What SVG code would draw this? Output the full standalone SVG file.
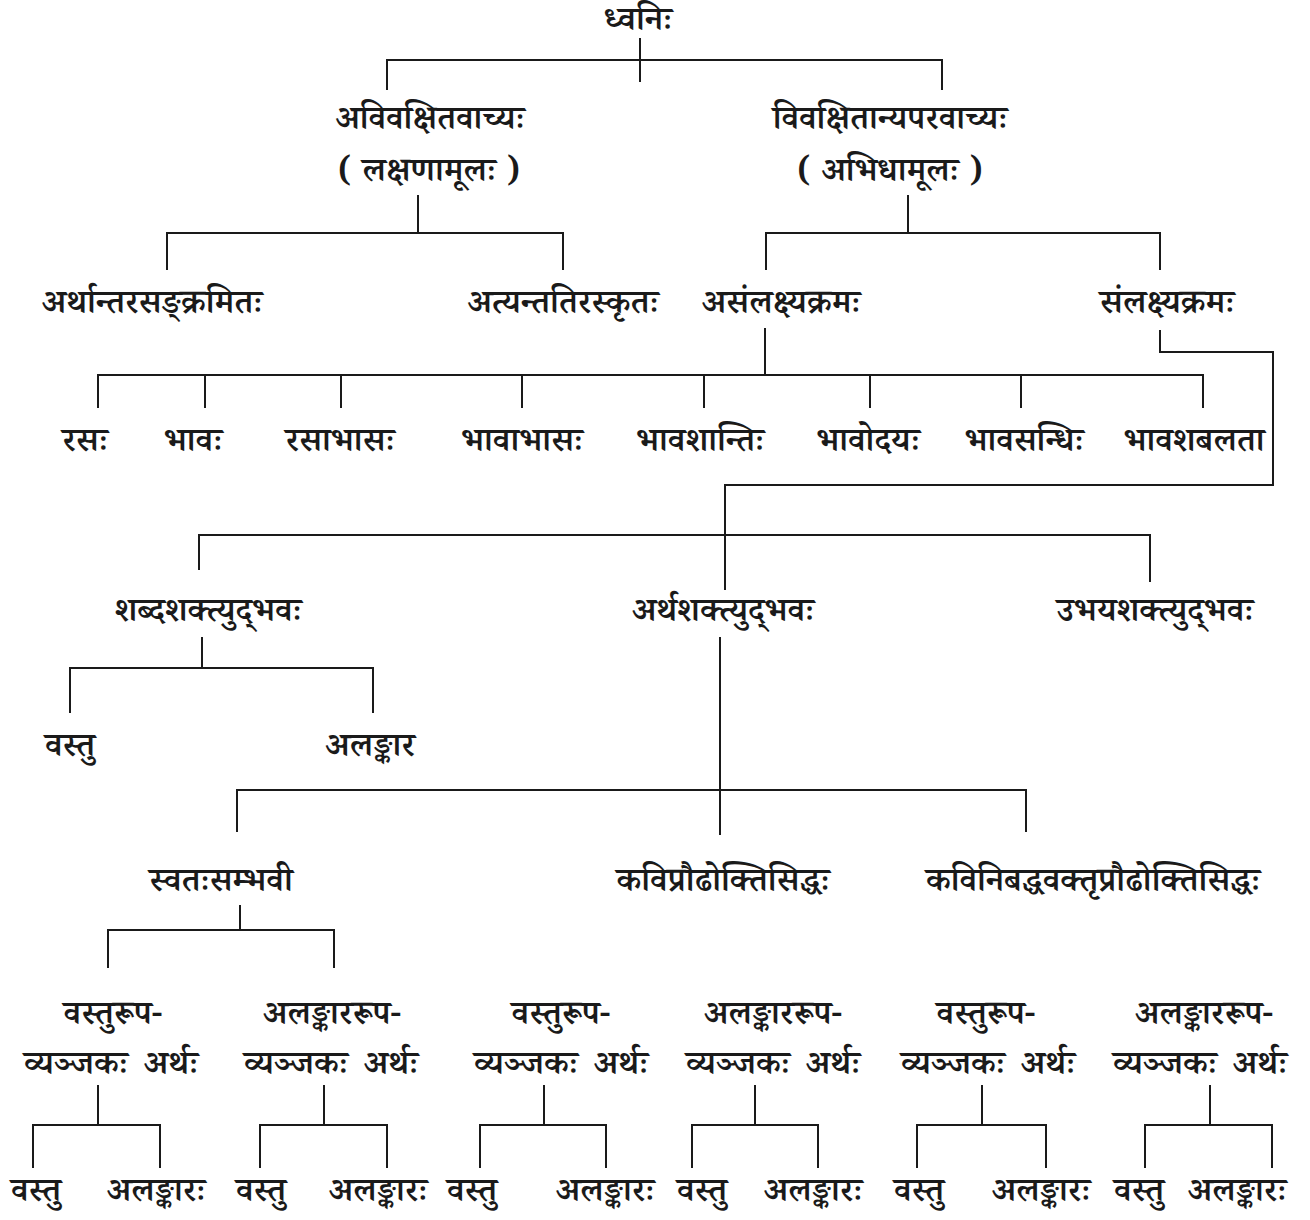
<svg xmlns="http://www.w3.org/2000/svg" width="1310" height="1220" viewBox="0 0 1310 1220">
<style>
text{font-family:"Noto Serif Devanagari","Noto Sans Devanagari","Lohit Devanagari","Noto Sans",sans-serif;font-size:34px;font-weight:600;fill:#1a1a1a;text-anchor:middle}
.c{stroke:#1a1a1a;stroke-width:2;fill:none}
</style>
<rect width="1310" height="1220" fill="#fff"/>
<g id="connectors" class="c">
<path d="M640 38V82M387 90V60H942V90"/>
<path d="M418 195V233M167 270V233H563V270"/>
<path d="M908 195V233M766 270V233H1160V270"/>
<path d="M765 328V375M98 408V375H1203V408M205 375V408M341 375V408M522 375V408M704 375V408M870 375V408M1021 375V408"/>
<path d="M1160 330V352H1273V485H725V590M199 570V535H1150V582"/>
<path d="M202 637V668M70 713V668H373V713"/>
<path d="M720 637V835M237 832V790H1026V832"/>
<path d="M240 905V930M108 968V930H334V968"/>
<path d="M98 1085V1125M33 1168V1125H160V1168"/>
<path d="M324 1085V1125M260 1168V1125H387V1168"/>
<path d="M544 1085V1125M480 1168V1125H606V1168"/>
<path d="M755 1085V1125M692 1168V1125H818V1168"/>
<path d="M982 1085V1125M917 1168V1125H1046V1168"/>
<path d="M1210 1085V1125M1145 1168V1125H1272V1168"/>
</g>
<g id="n-dhvani"><text x="638" y="30">ध्वनिः</text></g>
<g id="n-avivakshita"><text x="430" y="129">अविवक्षितवाच्यः</text><text x="429" y="181">( लक्षणामूलः )</text></g>
<g id="n-vivakshita"><text x="890" y="129">विवक्षितान्यपरवाच्यः</text><text x="890" y="181">( अभिधामूलः )</text></g>
<g id="n-arthantara"><text x="152" y="313">अर्थान्तरसङ्क्रमितः</text></g>
<g id="n-atyanta"><text x="563" y="313">अत्यन्ततिरस्कृतः</text></g>
<g id="n-asamlakshya"><text x="781" y="313">असंलक्ष्यक्रमः</text></g>
<g id="n-samlakshya"><text x="1167" y="313">संलक्ष्यक्रमः</text></g>
<g id="n-rasa"><text x="85" y="451">रसः</text></g>
<g id="n-bhava"><text x="193" y="451">भावः</text></g>
<g id="n-rasabhasa"><text x="340" y="451">रसाभासः</text></g>
<g id="n-bhavabhasa"><text x="522" y="451">भावाभासः</text></g>
<g id="n-bhavashanti"><text x="700" y="451">भावशान्तिः</text></g>
<g id="n-bhavodaya"><text x="868" y="451">भावोदयः</text></g>
<g id="n-bhavasandhi"><text x="1024" y="451">भावसन्धिः</text></g>
<g id="n-bhavashabalata"><text x="1194" y="451">भावशबलता</text></g>
<g id="n-shabda"><text x="208" y="621">शब्दशक्त्युद्‌भवः</text></g>
<g id="n-artha"><text x="723" y="621">अर्थशक्त्युद्‌भवः</text></g>
<g id="n-ubhaya"><text x="1155" y="621">उभयशक्त्युद्‌भवः</text></g>
<g id="n-s-vastu"><text x="70" y="756">वस्तु</text></g>
<g id="n-s-alankara"><text x="370" y="756">अलङ्कार</text></g>
<g id="n-svatah"><text x="221" y="891">स्वतःसम्भवी</text></g>
<g id="n-kavi"><text x="723" y="891">कविप्रौढोक्तिसिद्धः</text></g>
<g id="n-kavinibaddha"><text x="1093" y="891">कविनिबद्धवक्तृप्रौढोक्तिसिद्धः</text></g>
<g id="n-g1"><text x="113" y="1024">वस्तुरूप-</text><text x="111" y="1074">व्यञ्जकः&#160;&#8201;अर्थः</text></g>
<g id="n-g2"><text x="332" y="1024">अलङ्काररूप-</text><text x="331" y="1074">व्यञ्जकः&#160;&#8201;अर्थः</text></g>
<g id="n-g3"><text x="561" y="1024">वस्तुरूप-</text><text x="561" y="1074">व्यञ्जकः&#160;&#8201;अर्थः</text></g>
<g id="n-g4"><text x="773" y="1024">अलङ्काररूप-</text><text x="773" y="1074">व्यञ्जकः&#160;&#8201;अर्थः</text></g>
<g id="n-g5"><text x="986" y="1024">वस्तुरूप-</text><text x="988" y="1074">व्यञ्जकः&#160;&#8201;अर्थः</text></g>
<g id="n-g6"><text x="1204" y="1024">अलङ्काररूप-</text><text x="1200" y="1074">व्यञ्जकः&#160;&#8201;अर्थः</text></g>
<g id="n-b1"><text x="36" y="1201">वस्तु</text><text x="156" y="1201">अलङ्कारः</text></g>
<g id="n-b2"><text x="261" y="1201">वस्तु</text><text x="378" y="1201">अलङ्कारः</text></g>
<g id="n-b3"><text x="472" y="1201">वस्तु</text><text x="605" y="1201">अलङ्कारः</text></g>
<g id="n-b4"><text x="702" y="1201">वस्तु</text><text x="813" y="1201">अलङ्कारः</text></g>
<g id="n-b5"><text x="919" y="1201">वस्तु</text><text x="1041" y="1201">अलङ्कारः</text></g>
<g id="n-b6"><text x="1139" y="1201">वस्तु</text><text x="1237" y="1201">अलङ्कारः</text></g>
</svg>
